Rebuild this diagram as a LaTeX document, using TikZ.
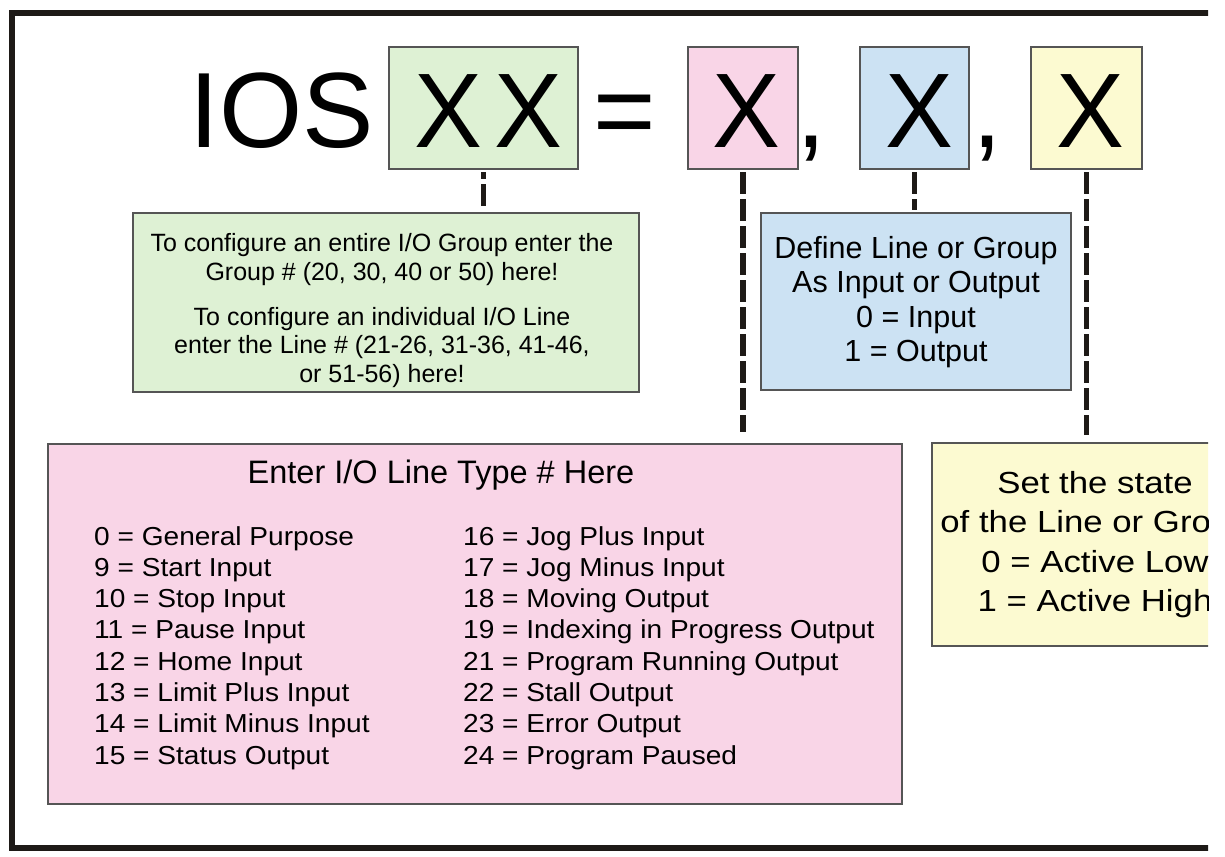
\documentclass[tikz,border=0pt]{standalone}
\usepackage{fontspec}
\setmainfont{Liberation Sans}
\newfontfamily\xfont[FakeStretch=0.96]{Liberation Sans}
\newfontfamily\listfont[FakeStretch=1.08]{Liberation Sans}
\newfontfamily\yfont[FakeStretch=1.14]{Liberation Sans}
\definecolor{gfill}{RGB}{222,241,212}
\definecolor{pfill}{RGB}{249,213,231}
\definecolor{bfill}{RGB}{204,226,243}
\definecolor{yfill}{RGB}{252,250,209}
\definecolor{framec}{RGB}{30,26,23}
\definecolor{edgec}{RGB}{85,85,85}
\begin{document}
\begin{tikzpicture}[x=1pt,y=-1pt,
  box/.style={draw=edgec, line width=1.2pt, anchor=north west, inner sep=0pt, outer sep=0pt},
  conn/.style={line width=5.5pt, draw=framec, dash pattern=on 22pt off 5pt},
  big/.style={inner sep=0pt, anchor=base, font=\fontsize{107}{107}\selectfont},
  bigx/.style={inner sep=0pt, anchor=base, font=\xfont\fontsize{106}{106}\selectfont},
  gtxt/.style={inner sep=0pt, anchor=base, font=\fontsize{25}{29}\selectfont},
  btxt/.style={inner sep=0pt, anchor=base, font=\fontsize{30.5}{34}\selectfont},
  ytxt/.style={inner sep=0pt, anchor=base, font=\yfont\fontsize{30.5}{34}\selectfont},
  ptitle/.style={inner sep=0pt, anchor=base, font=\fontsize{32.5}{36}\selectfont},
  ltxt/.style={inner sep=0pt, anchor=base west, font=\listfont\fontsize{26}{30}\selectfont}]
\useasboundingbox (0,0) rectangle (1225,856);
\begin{scope}
\clip (0,0) rectangle (1208,856);
% frame
\draw[framec, line width=6pt] (12,13.5) rectangle (1300,847.5);
% top boxes
\node[box, fill=gfill, minimum width=189pt, minimum height=122pt] (gXX) at (389,47) {};
\node[box, fill=pfill, minimum width=110pt, minimum height=122pt] (pX) at (688,47) {};
\node[box, fill=bfill, minimum width=109pt, minimum height=122pt] (bX) at (860,47) {};
\node[box, fill=yfill, minimum width=111pt, minimum height=122pt] (yX) at (1031,47) {};
% title text
\node[big] (ios) at (282,147) {IOS};
\node[bigx] (x1) at (448.5,147) {X};
\node[bigx] (x2) at (528.5,147) {X};
\node[big] (eq) at (625,147) {=};
\node[bigx] (x3) at (746.5,147) {X};
\node[big] (c1) at (811,147) {,};
\node[bigx] (x4) at (919,147) {X};
\node[big] (c2) at (987,147) {,};
\node[bigx] (x5) at (1090,147) {X};
% info boxes
\node[box, fill=gfill, minimum width=506pt, minimum height=179pt] (ginfo) at (133,213) {};
\node[box, fill=bfill, minimum width=310pt, minimum height=177pt] (binfo) at (761,213) {};
\node[box, fill=pfill, minimum width=854pt, minimum height=360pt] (pinfo) at (48,444) {};
\node[box, fill=yfill, minimum width=328pt, minimum height=203pt] (yinfo) at (932,443) {};
% connectors
\draw[conn, dash phase=15pt, shorten <=3pt, shorten >=6pt] (gXX.south) -- (gXX.south |- ginfo.north);
\draw[conn, shorten <=3pt, shorten >=12pt] (pX.south) -- (pX.south |- pinfo.north);
\draw[conn, shorten <=3pt, shorten >=3pt] (bX.south) -- (bX.south |- binfo.north);
\draw[conn, shorten <=3pt, shorten >=8pt] (yX.south) -- (yX.south |- yinfo.north);
% green text
\node[gtxt] (g1) at (382,251) {To configure an entire I/O Group enter the};
\node[gtxt] (g2) at (382,280) {Group \# (20, 30, 40 or 50) here!};
\node[gtxt] (g3) at (382,325) {To configure an individual I/O Line};
\node[gtxt] (g4) at (382,353) {enter the Line \# (21-26, 31-36, 41-46,};
\node[gtxt] (g5) at (382,382) {or 51-56) here!};
% blue text
\node[btxt] (b1) at (916,258) {Define Line or Group};
\node[btxt] (b2) at (916,292.5) {As Input or Output};
\node[btxt] (b3) at (916,327) {0 = Input};
\node[btxt] (b4) at (916,361.5) {1 = Output};
% yellow text
\node[ytxt] (y1) at (1095,493) {Set the state};
\node[ytxt] (y2) at (1095,532.5) {of the Line or Group};
\node[ytxt] (y3) at (1095,572) {0 = Active Low};
\node[ytxt] (y4) at (1095,611.5) {1 = Active High};
% pink text
\node[ptitle] (pt) at (441,483) {Enter I/O Line Type \# Here};
\foreach \t [count=\i from 0] in {0 = General Purpose, 9 = Start Input, 10 = Stop Input, 11 = Pause Input, 12 = Home Input, 13 = Limit Plus Input, 14 = Limit Minus Input, 15 = Status Output}
  \node[ltxt] (L\i) at (94,545+31.3*\i) {\t};
\foreach \t [count=\i from 0] in {16 = Jog Plus Input, 17 = Jog Minus Input, 18 = Moving Output, 19 = Indexing in Progress Output, 21 = Program Running Output, 22 = Stall Output, 23 = Error Output, 24 = Program Paused}
  \node[ltxt] (R\i) at (463,545+31.3*\i) {\t};
\end{scope}
\end{tikzpicture}
\end{document}
